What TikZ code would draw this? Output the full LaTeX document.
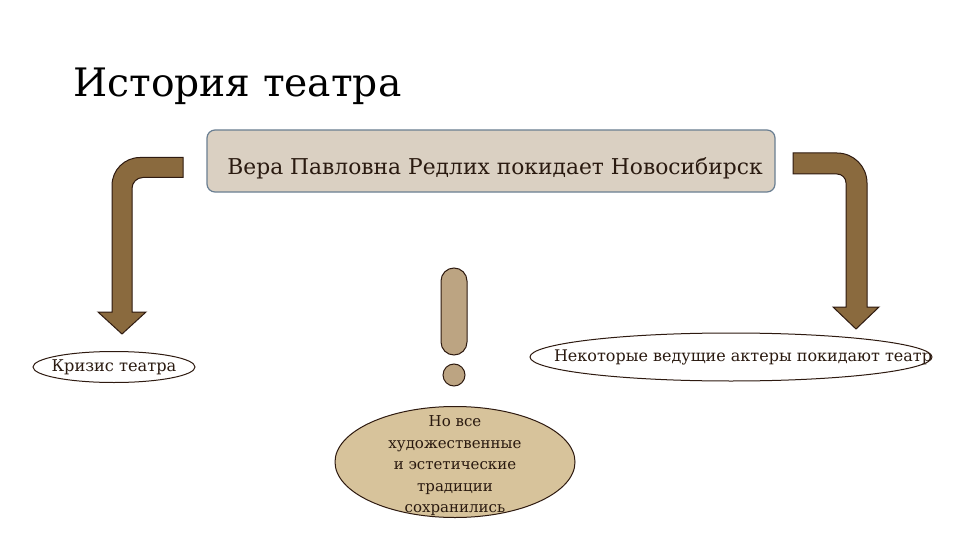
\documentclass[tikz,border=0pt]{standalone}
\usepackage{fontspec}
\setmainfont{DejaVu Serif}
\usetikzlibrary{shapes.geometric}
\definecolor{arrowfill}{HTML}{8A6A3E}
\definecolor{arrowline}{HTML}{2E1A10}
\definecolor{boxfill}{HTML}{DAD0C2}
\definecolor{boxline}{HTML}{6A7F92}
\definecolor{exclfill}{HTML}{BCA482}
\definecolor{ovalfill}{HTML}{D7C39B}
\definecolor{textdark}{HTML}{2A1A10}
\begin{document}
\begin{tikzpicture}[x=1pt,y=-1pt,
  bentarrow/.style={fill=arrowfill,draw=arrowline,line width=1pt,line join=miter},
  oval/.style={ellipse,draw=arrowline,line width=1pt,inner sep=0pt},
  lbl/.style={text=textdark,inner sep=0pt}]
\useasboundingbox (0,0) rectangle (960,540);
\fill[white] (0,0) rectangle (960,540);
% title
\node[anchor=base west,inner sep=0pt,font=\fontsize{39.2}{45}\selectfont] (title) at (73,97) {История театра};
% top box
\draw[fill=boxfill,draw=boxline,line width=1.2pt,rounded corners=8pt] (207,130) rectangle (775,192);
\node[lbl,font=\fontsize{21.8}{26}\selectfont] (top) at (495,168) {Вера Павловна Редлих покидает Новосибирск};
% left bent arrow
\draw[bentarrow] (183,157.5) -- (140,157.5) .. controls (124.5,157.5) and (112,170) .. (112,185.5)
  -- (112,312) -- (98,312) -- (122,334) -- (146,312) -- (132,312) -- (132,188.5)
  .. controls (132,182.4) and (136.9,177.5) .. (143,177.5) -- (183,177.5) -- cycle;
% right bent arrow
\draw[bentarrow] (793,153) -- (837,153) .. controls (853.6,153) and (867,166.4) .. (867,183)
  -- (867,307) -- (879,307) -- (856,329) -- (833,307) -- (846,307) -- (846,183)
  .. controls (846,178) and (842,174) .. (837,174) -- (793,174) -- cycle;
% left ellipse
\node[oval,fill=white,minimum width=162pt,minimum height=31pt] (crisis) at (114,367) {};
\node[lbl,font=\fontsize{16.2}{19}\selectfont] (crisistext) at (114,367) {Кризис театра};
% right ellipse
\node[oval,fill=white,minimum width=402pt,minimum height=48pt] (actors) at (731,357) {};
\node[lbl,font=\fontsize{16}{19}\selectfont] (actorstext) at (743,357) {Некоторые ведущие актеры покидают театр};
% exclamation
\draw[fill=exclfill,draw=arrowline,line width=1pt,rounded corners=13pt] (441,268) rectangle (467,355);
\node[circle,fill=exclfill,draw=arrowline,line width=1pt,minimum size=22pt,inner sep=0pt] (dot) at (454,375) {};
% bottom ellipse
\node[oval,fill=ovalfill,minimum width=240pt,minimum height=111pt] (keep) at (455,462) {};
\node[lbl,align=center,font=\fontsize{15}{21.5}\selectfont] (keeptext) at (455,466) {Но все\\художественные\\и эстетические\\традиции\\сохранились};
\end{tikzpicture}
\end{document}
